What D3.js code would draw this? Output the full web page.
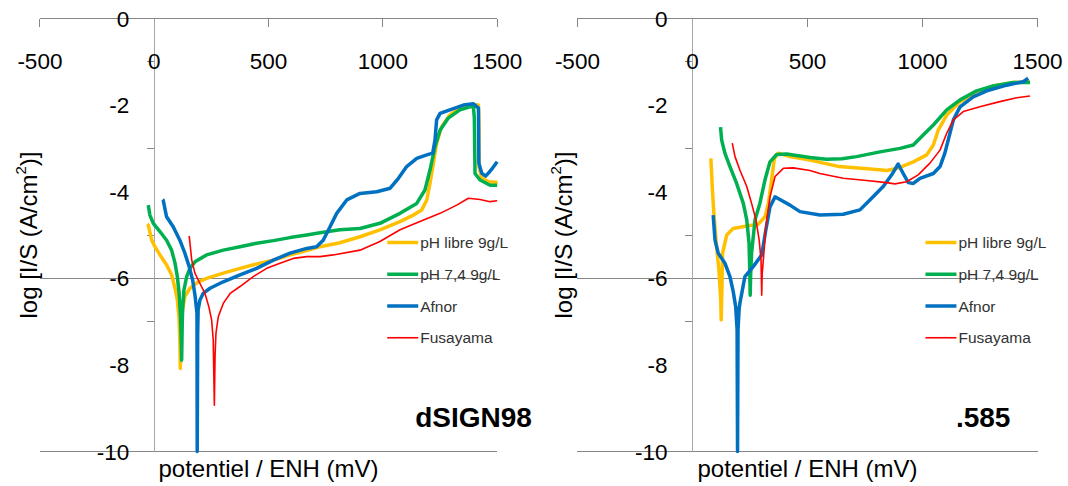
<!DOCTYPE html>
<html><head><meta charset="utf-8">
<script src="https://cdn.jsdelivr.net/npm/d3@7"></script>
<style>
body{margin:0;background:#fff}
svg{display:block}
text{font-family:"Liberation Sans",Arial,sans-serif}
</style>
</head><body>
<svg id="c" width="1068" height="486"></svg>
<script>
const xTicks = [-500, 0, 500, 1000, 1500];
const yLabelTicks = [0, -2, -4, -6, -8, -10];
const yMinorTicks = [-1, -3, -5, -7];
const hLines = [0, -6, -10];
const seriesNames = ["pH libre 9g/L", "pH 7,4 9g/L", "Afnor", "Fusayama"];
const panelLabels = ["dSIGN98", ".585"];

// Left panel: dSIGN98  [potential mV, log I/S]
const d98Libre = [[-31,-4.75],[-26,-4.77],[-11,-5.12],[3,-5.27],[25,-5.46],[54,-5.69],[76,-5.92],[91,-6.23],[101,-6.5],[108,-6.89],[112,-7.42],[114,-8.08],[118,-7.2],[124,-6.73],[134,-6.42],[156,-6.23],[192,-6.08],[229,-6.0],[302,-5.88],[375,-5.77],[448,-5.67],[521,-5.58],[594,-5.46],[667,-5.36],[725,-5.27],[812,-5.18],[900,-5.04],[987,-4.88],[1075,-4.69],[1133,-4.54],[1170,-4.42],[1192,-4.19],[1206,-3.81],[1221,-3.34],[1235,-2.88],[1257,-2.5],[1293,-2.23],[1337,-2.07],[1381,-2.0],[1418,-2.0],[1420,-2.4],[1420,-3.42],[1432,-3.69],[1465,-3.77],[1502,-3.79]];
const d98Ph74 = [[-26,-4.31],[-19,-4.54],[-4,-4.73],[25,-4.92],[54,-5.12],[76,-5.35],[91,-5.65],[101,-5.96],[109,-6.35],[115,-6.89],[118,-7.4],[120,-7.89],[122,-7.2],[124,-6.73],[130,-6.27],[142,-5.96],[156,-5.77],[178,-5.62],[229,-5.46],[302,-5.35],[375,-5.27],[448,-5.19],[521,-5.13],[594,-5.06],[667,-5.0],[725,-4.95],[812,-4.88],[900,-4.85],[987,-4.73],[1075,-4.5],[1148,-4.27],[1184,-3.96],[1206,-3.5],[1228,-2.96],[1250,-2.58],[1286,-2.3],[1337,-2.11],[1381,-2.04],[1396,-2.04],[1400,-2.3],[1403,-3.58],[1425,-3.73],[1469,-3.85],[1500,-3.85]];
const d98Afnor = [[37,-4.18],[39,-4.19],[54,-4.58],[83,-4.81],[112,-5.12],[134,-5.42],[153,-5.73],[168,-6.04],[179,-6.42],[187,-6.81],[188,-10],[190,-7.3],[192,-6.73],[200,-6.5],[214,-6.35],[244,-6.23],[302,-6.08],[375,-5.92],[448,-5.77],[521,-5.58],[594,-5.42],[667,-5.31],[710,-5.27],[739,-5.12],[769,-4.81],[798,-4.5],[842,-4.19],[900,-4.04],[973,-4.0],[1032,-3.92],[1068,-3.69],[1104,-3.42],[1148,-3.23],[1192,-3.15],[1218,-3.11],[1228,-2.81],[1235,-2.34],[1250,-2.19],[1293,-2.11],[1352,-2.0],[1396,-1.97],[1418,-2.07],[1420,-3.34],[1432,-3.57],[1449,-3.64],[1465,-3.55],[1479,-3.46],[1500,-3.31]];
const d98Fusa = [[153,-5.02],[164,-5.58],[178,-5.88],[200,-6.12],[222,-6.35],[239,-6.66],[251,-6.96],[258,-7.42],[263,-8.93],[266,-7.8],[270,-7.27],[280,-6.89],[302,-6.58],[332,-6.35],[375,-6.19],[433,-5.96],[492,-5.77],[550,-5.65],[608,-5.54],[667,-5.5],[725,-5.5],[783,-5.46],[900,-5.35],[987,-5.15],[1075,-4.88],[1162,-4.69],[1250,-4.5],[1323,-4.31],[1374,-4.15],[1425,-4.18],[1469,-4.23],[1500,-4.21]];

// Right panel: .585
const r585Libre = [[80,-3.23],[86,-3.88],[93,-4.5],[105,-5.27],[115,-5.81],[123,-6.5],[125,-6.96],[128,-6.2],[131,-5.42],[149,-5.0],[177,-4.85],[236,-4.79],[286,-4.75],[315,-4.58],[330,-4.27],[344,-3.73],[356,-3.23],[373,-3.11],[424,-3.19],[511,-3.27],[638,-3.42],[787,-3.48],[847,-3.51],[902,-3.44],[960,-3.31],[1018,-3.15],[1047,-2.92],[1068,-2.58],[1105,-2.23],[1163,-1.92],[1235,-1.69],[1307,-1.56],[1394,-1.48],[1467,-1.46]];
const r585Ph74 = [[122,-2.51],[127,-2.81],[141,-3.11],[163,-3.42],[192,-3.81],[221,-4.27],[236,-4.65],[246,-5.19],[249,-5.8],[251,-6.39],[253,-5.9],[257,-5.42],[272,-4.65],[293,-4.27],[315,-3.73],[337,-3.31],[366,-3.14],[409,-3.13],[511,-3.21],[583,-3.25],[650,-3.24],[713,-3.19],[815,-3.08],[902,-3.0],[960,-2.92],[1003,-2.69],[1047,-2.46],[1105,-2.11],[1163,-1.88],[1235,-1.67],[1307,-1.56],[1394,-1.48],[1467,-1.48]];
const r585Afnor = [[90,-4.54],[98,-5.12],[112,-5.42],[141,-5.65],[163,-5.96],[177,-6.3],[188,-6.66],[194,-7.19],[196,-10],[198,-7.19],[203,-6.7],[206,-6.58],[228,-5.96],[264,-5.73],[301,-5.46],[319,-4.88],[337,-4.35],[359,-4.12],[380,-4.18],[424,-4.31],[467,-4.46],[554,-4.54],[655,-4.52],[728,-4.42],[771,-4.19],[829,-3.88],[866,-3.61],[894,-3.36],[916,-3.58],[938,-3.79],[960,-3.81],[989,-3.69],[1047,-3.58],[1076,-3.42],[1097,-3.11],[1119,-2.65],[1134,-2.34],[1163,-2.04],[1220,-1.81],[1279,-1.67],[1366,-1.54],[1438,-1.46],[1459,-1.38]];
const r585Fusa = [[173,-2.88],[185,-3.19],[206,-3.5],[236,-3.88],[257,-4.27],[276,-4.65],[290,-5.12],[298,-5.58],[301,-6.39],[303,-5.9],[308,-5.58],[319,-4.81],[337,-4.12],[359,-3.65],[395,-3.46],[438,-3.45],[511,-3.51],[554,-3.58],[655,-3.69],[757,-3.74],[844,-3.79],[880,-3.82],[931,-3.77],[981,-3.61],[1032,-3.34],[1076,-3.04],[1105,-2.65],[1134,-2.34],[1177,-2.15],[1249,-2.04],[1336,-1.92],[1409,-1.83],[1467,-1.79]];

const colors = ["#FFC000", "#00B050", "#0070C0", "#FF0000"];
const widths = [3.5, 3.5, 3.5, 1.6];

const panels = [
  {label: panelLabels[0], series: [d98Libre, d98Ph74, d98Afnor, d98Fusa], xr: [39.9, 497.2], titleX: 28, labelDx: 261},
  {label: panelLabels[1], series: [r585Libre, r585Ph74, r585Afnor, r585Fusa], xr: [577.4, 1037.6], titleX: 563, labelDx: 263.5}
];

const svg = d3.select("#c");
const y = d3.scaleLinear().domain([0, -10]).range([18.5, 451.5]);

panels.forEach(p => {
  const x = d3.scaleLinear().domain([-500, 1500]).range(p.xr);
  const g = svg.append("g");
  const x0 = x(0);

  g.selectAll("line.h").data(hLines).join("line")
    .attr("x1", x(-500)).attr("x2", x(1500))
    .attr("y1", d => y(d)).attr("y2", d => y(d))
    .attr("stroke", "#868686").attr("stroke-width", 1).attr("shape-rendering", "crispEdges");
  g.append("line").attr("x1", x0).attr("x2", x0).attr("y1", y(0)).attr("y2", y(-10))
    .attr("stroke", "#a6a6a6").attr("stroke-width", 1).attr("shape-rendering", "crispEdges");
  g.selectAll("line.xt").data(xTicks.filter(t => t !== 0)).join("line")
    .attr("x1", d => x(d)).attr("x2", d => x(d))
    .attr("y1", y(0)).attr("y2", y(0) + 8)
    .attr("stroke", "#868686").attr("shape-rendering", "crispEdges");
  g.selectAll("line.yt").data(yMinorTicks).join("line")
    .attr("x1", x0 - 7).attr("x2", x0)
    .attr("y1", d => y(d)).attr("y2", d => y(d))
    .attr("stroke", "#868686").attr("shape-rendering", "crispEdges");

  g.selectAll("text.xl").data(xTicks).join("text")
    .attr("x", d => x(d)).attr("y", 69)
    .attr("text-anchor", "middle").attr("font-size", 22.5).attr("fill", "#000")
    .text(d => d);
  g.selectAll("text.yl").data(yLabelTicks).join("text")
    .attr("x", x0 - 25).attr("y", d => y(d) + 8)
    .attr("text-anchor", "end").attr("font-size", 22.5).attr("fill", "#000")
    .text(d => d);

  const yt = g.append("text")
    .attr("transform", `translate(${p.titleX},${y(-5)}) rotate(-90)`)
    .attr("text-anchor", "middle").attr("dominant-baseline", "central")
    .attr("font-size", 24).attr("fill", "#000");
  yt.append("tspan").text("log [I/S (A/cm");
  yt.append("tspan").attr("font-size", 15).attr("dy", -8).text("2");
  yt.append("tspan").attr("dy", 8).text(")]");

  g.append("text").attr("x", x(500)).attr("y", 477)
    .attr("text-anchor", "middle").attr("font-size", 24).attr("fill", "#000")
    .text("potentiel / ENH (mV)");

  const line = d3.line().x(d => x(d[0])).y(d => y(d[1]));
  p.series.forEach((s, i) => {
    g.append("path").datum(s).attr("d", line)
      .attr("fill", "none").attr("stroke", colors[i]).attr("stroke-width", widths[i])
      .attr("stroke-linejoin", "round").attr("stroke-linecap", "butt");
  });

  seriesNames.forEach((n, i) => {
    const ly = 242.5 + i * 31.75;
    g.append("line").attr("x1", x0 + 233).attr("x2", x0 + 264).attr("y1", ly).attr("y2", ly)
      .attr("stroke", colors[i]).attr("stroke-width", widths[i]);
    g.append("text").attr("x", x0 + 266).attr("y", ly + 5.5)
      .attr("font-size", 15.5).attr("fill", "#333").text(n);
  });

  g.append("text").attr("x", x0 + p.labelDx).attr("y", 427)
    .attr("font-size", 28).attr("font-weight", "bold").attr("fill", "#000")
    .text(p.label);
});
</script>
</body></html>
